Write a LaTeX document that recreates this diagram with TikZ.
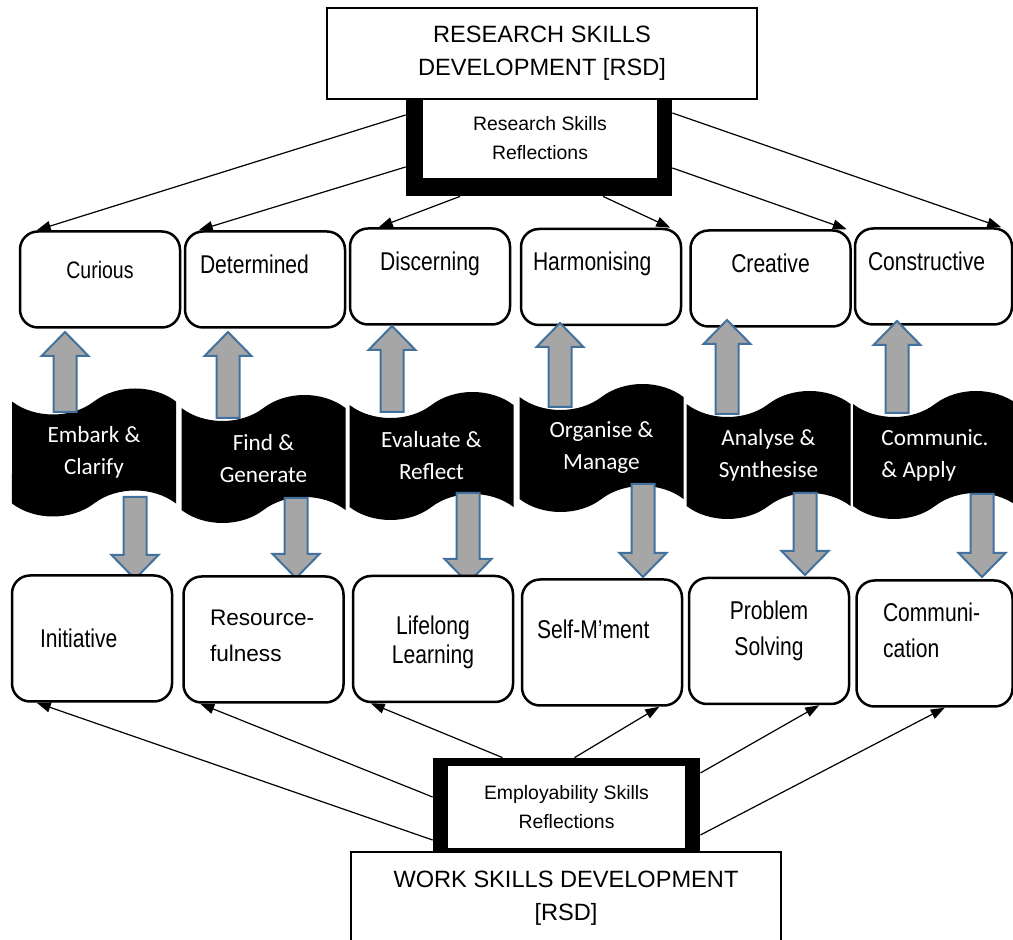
\documentclass[tikz,border=0pt]{standalone}
\usepackage{fontspec}
\setmainfont{Liberation Sans}
\newfontfamily\narrowsans[FakeStretch=0.82]{Liberation Sans}
\newfontfamily\tapefont{Carlito}
\usetikzlibrary{arrows.meta,shapes.symbols}
\definecolor{arrowfill}{HTML}{A6A6A6}
\definecolor{arrowline}{HTML}{41719C}
\tikzset{
  titlebox/.style={draw, line width=1pt, fill=white, align=center,
    minimum width=215pt, minimum height=46pt, font=\fontsize{11.8}{16.5}\selectfont},
  blackframe/.style={fill=black, inner sep=0pt},
  reflbox/.style={fill=white, inner sep=0pt, align=center,
    font=\fontsize{9.7}{14.5}\selectfont},
  topbox/.style={draw, line width=1.25pt, rounded corners=9pt, fill=white, inner sep=0pt,
    minimum width=80pt, minimum height=48pt, text height=21pt, text depth=27pt,
    font=\narrowsans\fontsize{12.85}{15}\selectfont},
  botbox/.style={draw, line width=1.25pt, rounded corners=9pt, fill=white, inner sep=0pt,
    minimum width=80pt, minimum height=63pt,
    font=\narrowsans\fontsize{12.85}{18}\selectfont},
  stage/.style={tape, fill=black, text=white, inner sep=0pt, align=center,
    minimum width=82pt, minimum height=64pt, tape bend height=13pt,
    font=\tapefont\fontsize{11.6}{16}\selectfont},
  link/.style={-{Triangle[length=7pt,width=5pt]}, line width=0.6pt},
  blockarr/.style={fill=arrowfill, draw=arrowline, line width=1pt}
}
\begin{document}
\begin{tikzpicture}[x=0.5pt,y=-0.5pt]
  \useasboundingbox (0,0) rectangle (1013,940);
  % research side
  \node[blackframe, minimum width=133pt, minimum height=55pt] (rsrframe) at (539,141) {};
  \node[reflbox, minimum width=117pt, minimum height=39.5pt] (rsr) at (540,138.5) {Research Skills\\Reflections};
  \node[titlebox, minimum height=45.5pt] (rsd) at (542,53.5) {RESEARCH SKILLS\\DEVELOPMENT [RSD]};

  \node[topbox, text height=23.5pt, text depth=24.5pt, font=\narrowsans\fontsize{11.9}{15}\selectfont] (curious) at (100,279.5) {Curious};
  \node[topbox, text width=65pt, align=left] (determined) at (265,279.5) {Determined};
  \node[topbox] (discerning) at (430,276.5) {Discerning};
  \node[topbox, text width=68pt, align=left] (harmonising) at (601,277) {Harmonising};
  \node[topbox] (creative) at (770.5,278.5) {Creative};
  \node[topbox, minimum width=78.5pt, text width=65.5pt, align=left] (constructive) at (933.5,276.5) {Constructive};

  % stages
  \node[stage] (embark) at (94,452.5) {Embark \&\\Clarify};
  \node[stage] (findgen) at (263.5,459) {Find \&\\Generate};
  \node[stage] (evaluate) at (431.5,456) {Evaluate \&\\Reflect};
  \node[stage] (organise) at (601.5,448) {Organise \&\\Manage};
  \node[stage] (analyse) at (768.5,455) {Analyse \&\\Synthesise};
  \node[stage, align=left] (communic) at (935,455) {Communic.\\\& Apply};

  \foreach \x/\ya/\yb in {65/412/332, 228/418/332, 392/412/326, 560/407/323, 727/414/320, 897/413/321}
    \draw[blockarr] (\x-11.5,\ya) -- (\x-11.5,\yb+24) -- (\x-23.5,\yb+24) -- (\x,\yb)
      -- (\x+23.5,\yb+24) -- (\x+11.5,\yb+24) -- (\x+11.5,\ya) -- cycle;
  \foreach \x/\ya/\yb in {135/497/579, 296/498/578, 468/493/583, 643/484/577, 805/493/575, 982/494/577}
    \draw[blockarr] (\x-11.5,\ya) -- (\x-11.5,\yb-24) -- (\x-23.5,\yb-24) -- (\x,\yb)
      -- (\x+23.5,\yb-24) -- (\x+11.5,\yb-24) -- (\x+11.5,\ya) -- cycle;

  % employability side
  \node[botbox, text width=52pt, align=left, text height=36.25pt, text depth=26.75pt] (initiative) at (92,638.5) {Initiative};
  \node[botbox, text width=53.5pt, align=left, text height=24.75pt, text depth=38.25pt,
    font=\fontsize{11.3}{18}\selectfont] (resource) at (263.5,639.5) {Resource-\\fulness};
  \node[botbox, text width=68pt, align=center, text height=29.5pt, text depth=33.5pt,
    font=\narrowsans\fontsize{12.85}{14.5}\selectfont] (lifelong) at (433,639) {Lifelong\\Learning};
  \node[botbox, text width=65pt, align=left, text height=29.75pt, text depth=33.25pt] (selfmgmt) at (602,642.5) {Self-M’ment};
  \node[botbox, text width=68pt, align=center, text height=21pt, text depth=42pt] (problem) at (769,641) {Problem\\Solving};
  \node[botbox, minimum width=78pt, text width=51.5pt, align=left, text height=20.75pt, text depth=42.25pt] (communication) at (934.5,643.5) {Communi-\\cation};

  \node[blackframe, minimum width=133.5pt, minimum height=51pt] (empframe) at (566.5,809) {};
  \node[reflbox, minimum width=118.5pt, minimum height=41pt] (emp) at (566.5,807) {Employability Skills\\Reflections};
  \node[titlebox] (wsd) at (566,898) {WORK SKILLS DEVELOPMENT\\{[RSD]}};

  \draw[link] ([yshift=13pt]rsrframe.west) -- ([xshift=9pt]curious.north west);
  \draw[link] ([yshift=-13pt]rsrframe.west) -- ([xshift=7.5pt]determined.north west);
  \draw[link] ([xshift=-39.5pt]rsrframe.south) -- ([xshift=15pt]discerning.north west);
  \draw[link] ([xshift=32pt]rsrframe.south) -- ([xshift=-6pt]harmonising.north east);
  \draw[link] ([yshift=-13.5pt]rsrframe.east) -- ([xshift=-2.5pt]creative.north east);
  \draw[link] ([yshift=14pt]rsrframe.east) -- ([xshift=-6pt]constructive.north east);

  \draw[link] ([yshift=-15.5pt]empframe.west) -- ([xshift=13pt]initiative.south west);
  \draw[link] ([yshift=6pt]empframe.west) -- ([xshift=9pt]resource.south west);
  \draw[link] ([xshift=-32pt]empframe.north) -- ([xshift=9.5pt]lifelong.south west);
  \draw[link] ([xshift=4pt]empframe.north) -- ([xshift=-12pt]selfmgmt.south east);
  \draw[link] ([yshift=18pt]empframe.east) -- ([xshift=-15.5pt]problem.south east);
  \draw[link] ([yshift=-13pt]empframe.east) -- ([xshift=-34.5pt]communication.south east);
\end{tikzpicture}
\end{document}
